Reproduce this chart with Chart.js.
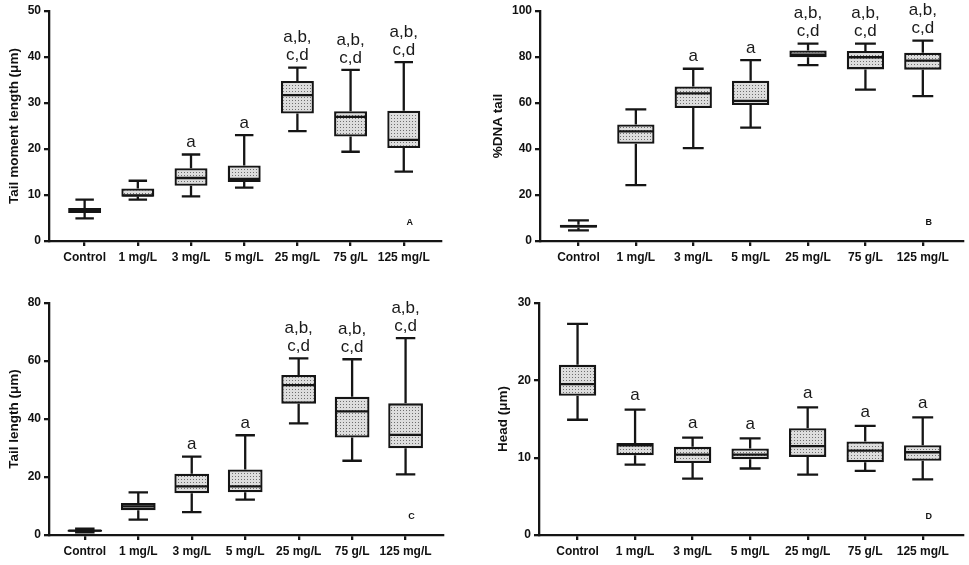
<!DOCTYPE html>
<html><head><meta charset="utf-8">
<script src="https://cdn.jsdelivr.net/npm/chart.js@4.4.1/dist/chart.umd.min.js"></script>
<style>
html,body{margin:0;padding:0;background:#fff;width:969px;height:565px;overflow:hidden;}
canvas{position:absolute;}
</style></head><body>
<canvas id="cA" width="484" height="270" style="left:0px;top:0px"></canvas>
<canvas id="cB" width="485" height="270" style="left:484px;top:0px"></canvas>
<canvas id="cC" width="484" height="285" style="left:0px;top:280px"></canvas>
<canvas id="cD" width="485" height="285" style="left:484px;top:280px"></canvas>
<script>
const categories = ['Control','1 mg/L','3 mg/L','5 mg/L','25 mg/L','75 g/L','125 mg/L'];

// Panel A: Tail moment length (µm)
const aMin = [4.9, 9.0, 9.7, 11.6, 23.9, 19.4, 15.1];
const aQ1  = [6.1, 9.6, 12.0, 12.8, 27.7, 22.7, 20.2];
const aMed = [6.7, 9.9, 13.7, 13.5, 31.7, 27.0, 22.0];
const aQ3  = [7.2, 11.4, 15.8, 16.4, 34.8, 28.2, 28.3];
const aMax = [9.0, 13.1, 18.8, 23.0, 37.7, 37.2, 38.9];
const aSig = ['', '', 'a', 'a', 'a,b,|c,d', 'a,b,|c,d', 'a,b,|c,d'];

// Panel B: %DNA tail
const bMin = [4.6, 24.3, 40.4, 49.3, 76.5, 65.8, 63.0];
const bQ1  = [5.8, 42.3, 57.8, 59.1, 79.9, 74.6, 74.5];
const bMed = [6.5, 47.7, 64.2, 60.9, 81.0, 79.9, 78.4];
const bQ3  = [7.1, 50.7, 67.2, 69.7, 82.8, 82.6, 81.9];
const bMax = [9.0, 57.2, 74.9, 78.6, 85.8, 85.8, 87.1];
const bSig = ['', '', 'a', 'a', 'a,b,|c,d', 'a,b,|c,d', 'a,b,|c,d'];

// Panel C: Tail length (µm)
const cMin = [0.9, 5.3, 7.9, 12.2, 38.5, 25.6, 20.9];
const cQ1  = [1.1, 8.5, 14.4, 14.7, 45.3, 33.6, 29.9];
const cMed = [1.5, 9.9, 16.8, 16.8, 51.7, 42.6, 34.5];
const cQ3  = [1.8, 11.0, 21.1, 22.6, 55.2, 47.7, 45.4];
const cMax = [2.2, 14.7, 27.0, 34.4, 60.9, 60.6, 67.9];
const cSig = ['', '', 'a', 'a', 'a,b,|c,d', 'a,b,|c,d', 'a,b,|c,d'];

// Panel D: Head (µm)
const dMin = [14.9, 9.1, 7.3, 8.6, 7.8, 8.3, 7.2];
const dQ1  = [18.0, 10.3, 9.3, 9.8, 10.1, 9.4, 9.6];
const dMed = [19.5, 11.6, 10.4, 10.4, 11.5, 10.9, 10.7];
const dQ3  = [22.0, 11.9, 11.4, 11.2, 13.8, 12.1, 11.6];
const dMax = [27.3, 16.2, 12.6, 12.5, 16.5, 14.1, 15.2];
const dSig = ['', 'a', 'a', 'a', 'a', 'a', 'a'];

const FONT = "'Liberation Sans', Arial, Helvetica, sans-serif";

function makePattern(){
  const c = document.createElement('canvas');
  c.width = 3; c.height = 3;
  const g = c.getContext('2d');
  g.fillStyle = '#dddddd'; g.fillRect(0,0,3,3);
  g.fillStyle = '#6e6e6e'; g.fillRect(1,1,1,1);
  return g.createPattern(c, 'repeat');
}
const dotPattern = makePattern();

const boxPlugin = {
  id: 'boxWhisk',
  afterDatasetsDraw(chart){
    const ctx = chart.ctx;
    const x = chart.scales.x, y = chart.scales.y;
    const st = chart.config.options.plugins.boxWhisk;
    const meta = chart.getDatasetMeta(0);
    ctx.save();
    ctx.strokeStyle = '#151515';
    ctx.lineWidth = 2.3;
    meta.data.forEach((bar, i) => {
      const cx = bar.x;
      const hw = bar.width / 2;
      const cw = bar.width * 0.28;
      const pMin = y.getPixelForValue(st.min[i]);
      const pMax = y.getPixelForValue(st.max[i]);
      const pQ1 = y.getPixelForValue(st.q1[i]);
      const pQ3 = y.getPixelForValue(st.q3[i]);
      const pMed = y.getPixelForValue(st.med[i]);
      ctx.beginPath();
      ctx.moveTo(cx, pQ3); ctx.lineTo(cx, pMax);
      ctx.moveTo(cx - cw, pMax); ctx.lineTo(cx + cw, pMax);
      ctx.moveTo(cx, pQ1); ctx.lineTo(cx, pMin);
      ctx.moveTo(cx - cw, pMin); ctx.lineTo(cx + cw, pMin);
      ctx.moveTo(cx - hw + 1, pMed); ctx.lineTo(cx + hw - 1, pMed);
      ctx.stroke();
      const sig = st.sig[i];
      if (sig) {
        const lines = sig.split('|');
        ctx.fillStyle = '#1a1a1a';
        ctx.font = '17px ' + FONT;
        ctx.textAlign = 'center';
        ctx.textBaseline = 'middle';
        let yy = pMax - st.sigOffset;
        for (let k = lines.length - 1; k >= 0; k--) {
          ctx.fillText(lines[k], cx, yy);
          yy -= 18;
        }
      }
    });
    // panel letter
    ctx.fillStyle = '#111';
    ctx.font = 'bold 9px ' + FONT;
    ctx.textAlign = 'center';
    ctx.textBaseline = 'middle';
    ctx.fillText(st.letter, x.getPixelForValue(6) + 6, chart.chartArea.bottom - 18);
    ctx.restore();
  }
};

function makePanel(id, s, o){
  const data = categories.map((c, i) => ({x: i, y: [s.q1[i], s.q3[i]]}));
  new Chart(document.getElementById(id), {
    type: 'bar',
    data: {
      datasets: [{
        data: data,
        backgroundColor: dotPattern,
        borderColor: '#151515',
        borderWidth: 2.3,
        borderSkipped: false,
        categoryPercentage: 1,
        barPercentage: o.barPct
      }]
    },
    options: {
      responsive: false,
      animation: false,
      layout: { padding: { top: o.top, right: o.right, left: 0, bottom: 0 } },
      plugins: {
        legend: { display: false },
        tooltip: { enabled: false },
        boxWhisk: Object.assign({}, s, { sigOffset: o.sigOffset, letter: o.letter })
      },
      scales: {
        x: {
          type: 'linear',
          min: -0.67, max: 6.7,
          offset: false,
          afterBuildTicks: (sc) => { sc.ticks = categories.map((c, i) => ({ value: i })); },
          afterFit: (sc) => { sc.height = o.xh; },
          ticks: {
            callback: (v) => categories[v],
            autoSkip: false, maxRotation: 0,
            color: '#111', padding: 4,
            font: { family: FONT, size: 12, weight: 'bold' }
          },
          grid: { display: true, offset: false, drawOnChartArea: false, drawTicks: true, tickLength: 5, color: '#151515', lineWidth: 2.3 },
          border: { display: true, color: '#151515', width: 2.3 }
        },
        y: {
          min: 0, max: o.ymax,
          afterFit: (sc) => { sc.width = o.yw; },
          ticks: {
            stepSize: o.step, color: '#111', padding: 3,
            font: { family: FONT, size: 12, weight: 'bold' }
          },
          grid: { display: true, drawOnChartArea: false, drawTicks: true, tickLength: 5, color: '#151515', lineWidth: 2.3 },
          border: { display: true, color: '#151515', width: 2.3 },
          title: {
            display: true, text: o.title, color: '#111',
            padding: { top: o.tpad, bottom: 0 },
            font: { family: FONT, size: 13.5, weight: 'bold' }
          }
        }
      }
    },
    plugins: [boxPlugin]
  });
}

makePanel('cA', {min: aMin, q1: aQ1, med: aMed, q3: aQ3, max: aMax, sig: aSig},
  {barPct: 0.62, top: 11, right: 43, xh: 29, yw: 49, ymax: 50, step: 10, title: 'Tail moment length (\u03bcm)', tpad: 6, sigOffset: 12, letter: 'A'});
makePanel('cB', {min: bMin, q1: bQ1, med: bMed, q3: bQ3, max: bMax, sig: bSig},
  {barPct: 0.65, top: 11, right: 6, xh: 29, yw: 56, ymax: 100, step: 20, title: '%DNA tail', tpad: 6, sigOffset: 12, letter: 'B'});
makePanel('cC', {min: cMin, q1: cQ1, med: cMed, q3: cQ3, max: cMax, sig: cSig},
  {barPct: 0.65, top: 23, right: 41, xh: 30, yw: 49, ymax: 80, step: 20, title: 'Tail length (\u03bcm)', tpad: 6, sigOffset: 12, letter: 'C'});
makePanel('cD', {min: dMin, q1: dQ1, med: dMed, q3: dQ3, max: dMax, sig: dSig},
  {barPct: 0.65, top: 23, right: 6, xh: 30, yw: 55, ymax: 30, step: 10, title: 'Head (\u03bcm)', tpad: 11, sigOffset: 14, letter: 'D'});
</script>
</body></html>
